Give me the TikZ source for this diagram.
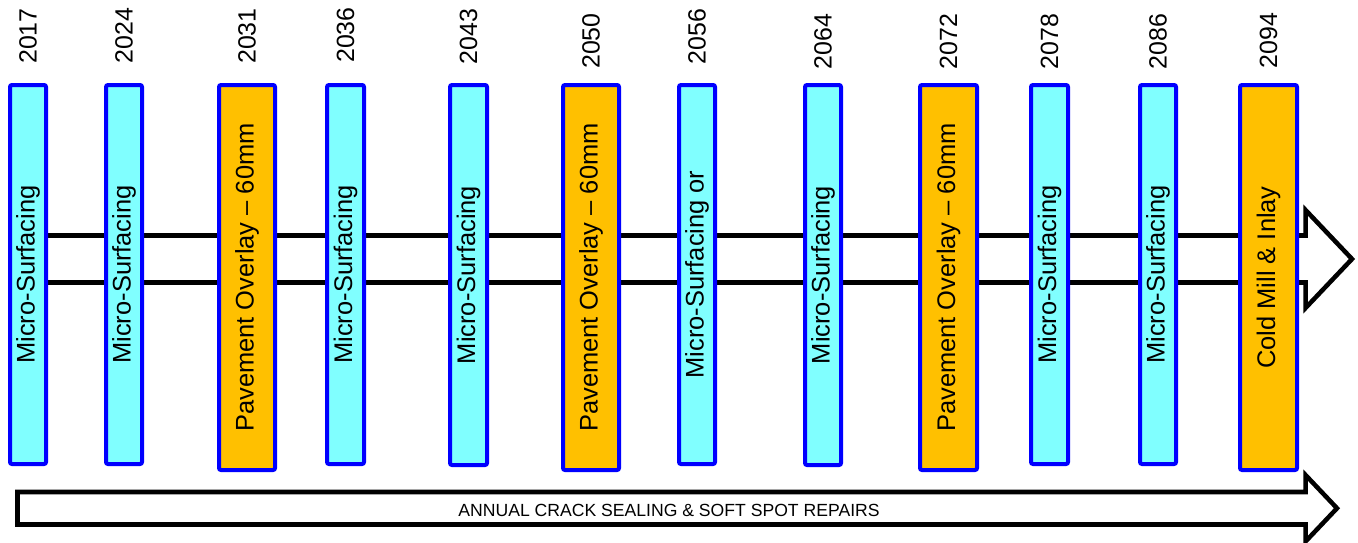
\documentclass[tikz,border=0pt]{standalone}
\usepackage{fontspec}
\setmainfont{Liberation Sans}
\definecolor{barcyan}{RGB}{128,255,255}
\definecolor{barorange}{RGB}{255,192,0}
\definecolor{barblue}{RGB}{0,0,255}
\begin{document}
\begin{tikzpicture}[x=0.75pt,y=-0.75pt,
  bar/.style={draw=barblue, line width=3pt, rounded corners=1.5pt, rotate=90,
    inner sep=0pt, font=\fontsize{19.1}{21}\selectfont, text=black},
  mslab/.style={bar, fill=barcyan},
  ovlab/.style={bar, fill=barorange},
  year/.style={rotate=90, inner sep=0pt, font=\fontsize{18.7}{20}\selectfont},
  flow/.style={draw=black, line width=3.4pt, line join=miter, fill=white}]
\useasboundingbox (0,0) rectangle (1358,542);

% main timeline arrow (two rails, open head at the right)
\coordinate (ra) at (28,235.5);
\coordinate (rb) at (28,282.5);
\coordinate (na) at (1305.5,235.5);
\coordinate (nb) at (1305.5,282.5);
\coordinate (ht) at (1305.5,210);
\coordinate (hb) at (1305.5,308);
\coordinate (tip) at (1352,259);
\draw[flow] (ra) -- (na) -- (ht) -- (tip) -- (hb) -- (nb) -- (rb);

% annual maintenance arrow
\coordinate (sa) at (17.5,492);
\coordinate (sb) at (17.5,524.5);
\coordinate (sna) at (1305.5,492);
\coordinate (snb) at (1305.5,524.5);
\coordinate (sht) at (1305.5,475);
\coordinate (shb) at (1305.5,541.5);
\coordinate (stip) at (1337,508.25);
\draw[flow] (sa) -- (sna) -- (sht) -- (stip) -- (shb) -- (snb) -- (sb) -- cycle;
\node[inner sep=0pt, font=\fontsize{13.2}{15}\selectfont] (annual) at (669,510)
  {ANNUAL CRACK SEALING \& SOFT SPOT REPAIRS};

% treatment bars: name/left/right/bottom/style/label
\foreach \n/\l/\r/\b/\s/\t in {
  b1/8/48/466/mslab/{Micro-Surfacing},
  b2/104/144/466/mslab/{Micro-Surfacing},
  b3/217/277/472/ovlab/{Pavement Overlay – 60mm},
  b4/325/366/466/mslab/{Micro-Surfacing},
  b5/448/489/467/mslab/{Micro-Surfacing},
  b6/561/621/472/ovlab/{Pavement Overlay – 60mm},
  b7/677/717/466/mslab/{Micro-Surfacing or},
  b8/803/843/467/mslab/{Micro-Surfacing},
  b9/918/979/472/ovlab/{Pavement Overlay – 60mm},
  b10/1029/1070/466/mslab/{Micro-Surfacing},
  b11/1138/1178/466/mslab/{Micro-Surfacing},
  b12/1238/1299/472/ovlab/{Cold Mill \& Inlay}}{
  \node[\s, minimum width={(\b-87)*0.75pt}, minimum height={(\r-\l-4)*0.75pt}]
    (\n) at ({(\l+\r)/2},{(83+\b)/2}) {\t};
}

% years above the bars
\foreach \n/\y/\t in {b1/36/2017, b2/35.5/2024, b3/36/2031, b4/35/2036,
  b5/36.5/2043, b6/41/2050, b7/36.5/2056, b8/41.5/2064, b9/41.5/2072,
  b10/41.5/2078, b11/41.5/2086, b12/40.5/2094}{
  \path (\n.east) coordinate (\n top);
  \node[year] (y\n) at (\n top |- 0,\y) {\t};
}
\end{tikzpicture}
\end{document}
